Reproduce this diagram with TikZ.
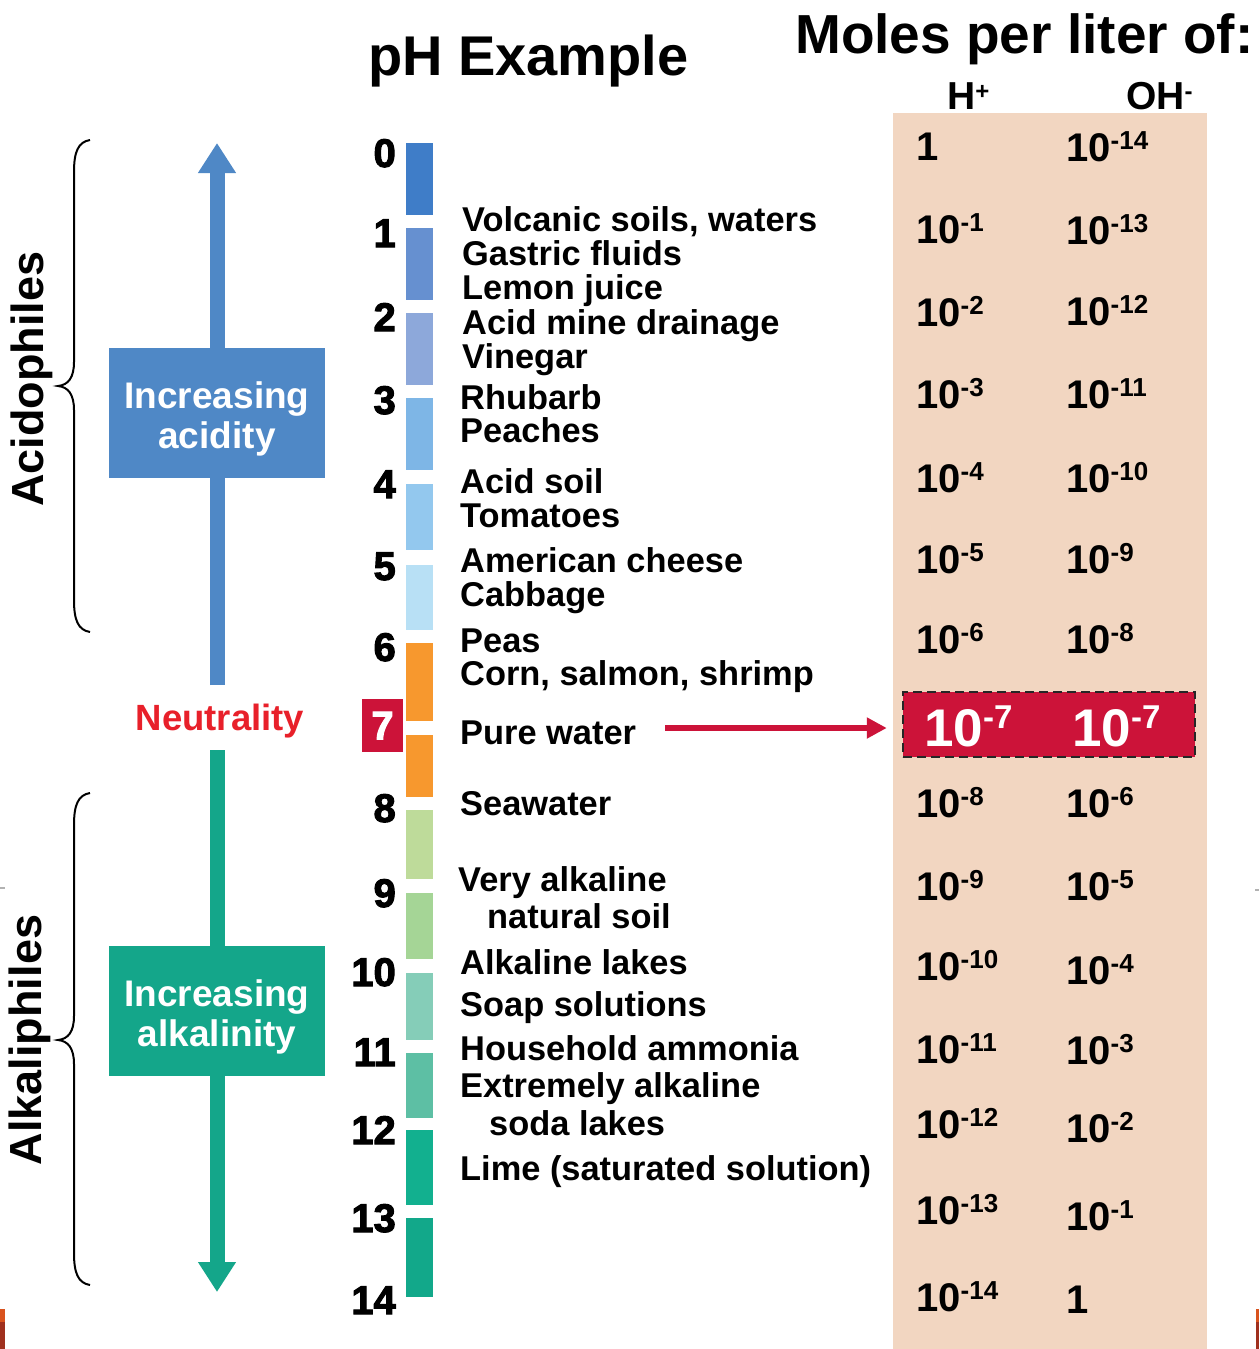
\documentclass[tikz,border=0pt]{standalone}
\usepackage{fontspec}
\setmainfont{Liberation Sans}
\newfontfamily\heavyfont[BoldFeatures={FakeBold=2.5}]{Liberation Sans}
\usetikzlibrary{arrows.meta}
\newcommand\fsz[1]{\fontsize{#1}{#1}\selectfont}
\newcommand\tenp[1]{10\raisebox{12pt}{\fsz{26}#1}}
\newcommand\tenbig[1]{10\raisebox{18pt}{\fsz{33}#1}}
\definecolor{peach}{HTML}{F2D6C1}
\definecolor{crim}{HTML}{CC1339}
\definecolor{neutred}{HTML}{E8202A}
\definecolor{acidblue}{HTML}{4F88C6}
\definecolor{alkgreen}{HTML}{14A68A}
\definecolor{c0}{HTML}{3F7DC8}
\definecolor{c1}{HTML}{6690D0}
\definecolor{c2}{HTML}{8DA8DA}
\definecolor{c3}{HTML}{7EB6E6}
\definecolor{c4}{HTML}{93C8EE}
\definecolor{c5}{HTML}{B8E0F5}
\definecolor{c6}{HTML}{F7982E}
\definecolor{c7}{HTML}{F7982E}
\definecolor{c8}{HTML}{BEDB9A}
\definecolor{c9}{HTML}{A5D596}
\definecolor{c10}{HTML}{85CDB8}
\definecolor{c11}{HTML}{5DBFA4}
\definecolor{c12}{HTML}{12B08F}
\definecolor{c13}{HTML}{12A88A}
\definecolor{slideor}{HTML}{D9531E}
\definecolor{slidered}{HTML}{A0301E}
\begin{document}
\begin{tikzpicture}[x=1pt,y=-1pt,
  extext/.style={anchor=base west,inner sep=0pt,font=\bfseries\fsz{34.4}},
  phnum/.style={anchor=base east,inner sep=0pt,font=\heavyfont\bfseries\fsz{40}},
  valtext/.style={anchor=base west,inner sep=0pt,font=\bfseries\fsz{40}},
  bigval/.style={anchor=base west,inner sep=0pt,font=\bfseries\fsz{53},text=white},
  title/.style={anchor=base west,inner sep=0pt,font=\bfseries\fsz{56}},
  hdr/.style={anchor=base west,inner sep=0pt,font=\bfseries\fsz{39}},
  sidebox/.style={minimum width=216pt,minimum height=130pt,inner sep=0pt},
  boxtext/.style={inner sep=0pt,text=white,align=center,font=\bfseries\fsz{37}},
  sidelabel/.style={inner sep=0pt,rotate=90,font=\bfseries\fsz{45}},
  bracepath/.style={line width=2pt},
  fatarrow/.style={line width=15pt}
]
\useasboundingbox (0,0) rectangle (1259,1349);
\fill[white] (0,0) rectangle (1259,1349);
% slide artefacts
\fill[slideor] (0,1309) rectangle (5,1322);
\fill[slidered] (0,1322) rectangle (5,1349);
\fill[slideor] (1256,1309) rectangle (1259,1322);
\fill[slidered] (1256,1322) rectangle (1259,1349);
\fill[gray!60] (0,887) rectangle (5,889);
\fill[gray!60] (1255,889) rectangle (1259,891);

% peach column
\fill[peach] (893,113) rectangle (1207,1349);

% titles
\node[title] (ttl) at (368,75) {pH Example};
\node[title,font=\bfseries\fsz{55}] (moles) at (795,53) {Moles per liter of:};
\node[hdr] (hh) at (947,109) {H\raisebox{10pt}{\fsz{24}+}};
\node[hdr] (oh) at (1126,109) {OH\raisebox{10pt}{\fsz{24}-}};

% color bars
\foreach \i/\ya/\yb in {0/143/215,1/228/300,2/313/385,3/398/470,4/484/550,5/565/630,6/643/721,7/735/797,8/810/879,9/893/959,10/973/1040,11/1053/1118,12/1130/1205,13/1218/1297}
  \fill[c\i] (406,\ya) rectangle (433,\yb);

% pH numbers
\foreach \n/\y in {0/167,1/247,2/331,3/414,4/498,5/580,6/661,8/822,9/907,10/986,11/1066,12/1144,13/1232,14/1314}
  \node[phnum] (n\n) at (396,\y) {\n};
\node[fill=crim,minimum width=41pt,minimum height=53pt,inner sep=0pt,text=white,font=\heavyfont\bfseries\fsz{40}] (n7) at (382.5,725.5) {7};

% examples
\node[extext] (e1) at (462,231) {Volcanic soils, waters};
\node[extext] (e2) at (462,265) {Gastric fluids};
\node[extext] (e3) at (462,299) {Lemon juice};
\node[extext] (e4) at (462,334) {Acid mine drainage};
\node[extext] (e5) at (462,368) {Vinegar};
\node[extext] (e6) at (460,409) {Rhubarb};
\node[extext] (e7) at (460,442) {Peaches};
\node[extext] (e8) at (460,493) {Acid soil};
\node[extext] (e9) at (460,527) {Tomatoes};
\node[extext] (e10) at (460,572) {American cheese};
\node[extext] (e11) at (460,606) {Cabbage};
\node[extext] (e12) at (460,652) {Peas};
\node[extext] (e13) at (460,685) {Corn, salmon, shrimp};
\node[extext] (pw) at (460,744) {Pure water};
\node[extext] (e15) at (460,815) {Seawater};
\node[extext] (e16) at (458,891) {Very alkaline};
\node[extext] (e17) at (487,928) {natural soil};
\node[extext] (e18) at (460,974) {Alkaline lakes};
\node[extext] (e19) at (460,1016) {Soap solutions};
\node[extext] (e20) at (460,1060) {Household ammonia};
\node[extext] (e21) at (460,1097) {Extremely alkaline};
\node[extext] (e22) at (489,1135) {soda lakes};
\node[extext] (e23) at (460,1180) {Lime (saturated solution)};

% neutral box in table
\node[fill=crim,draw=black!85,dash pattern=on 9pt off 5pt,line width=2.5pt,minimum width=292pt,minimum height=65pt,inner sep=0pt] (neut) at (1049,724.5) {};
\node[bigval] (nh) at (924,746) {\tenbig{-7}};
\node[bigval] (no) at (1072,746) {\tenbig{-7}};

% arrow from pure water
\coordinate (pwa) at (665,728);
\draw[crim,line width=5.5pt,-{Triangle[width=20pt,length=20pt]},shorten >=15pt] (pwa) -- (neut.west |- pwa);

% table values
\foreach \t/\y [count=\k] in {{1}/160,{\tenp{-1}}/243,{\tenp{-2}}/326,{\tenp{-3}}/408,{\tenp{-4}}/492,{\tenp{-5}}/573,{\tenp{-6}}/653,{\tenp{-8}}/817,{\tenp{-9}}/900,{\tenp{-10}}/980,{\tenp{-11}}/1063,{\tenp{-12}}/1138,{\tenp{-13}}/1224,{\tenp{-14}}/1311}
  \node[valtext] (h\k) at (916,\y) {\t};
\foreach \t/\y [count=\k] in {{\tenp{-14}}/161,{\tenp{-13}}/244,{\tenp{-12}}/325,{\tenp{-11}}/408,{\tenp{-10}}/492,{\tenp{-9}}/573,{\tenp{-8}}/653,{\tenp{-6}}/817,{\tenp{-5}}/900,{\tenp{-4}}/984,{\tenp{-3}}/1064,{\tenp{-2}}/1142,{\tenp{-1}}/1230,{1}/1313}
  \node[valtext] (o\k) at (1066,\y) {\t};

% left: acid arrow
\coordinate (ab) at (217,685);
\coordinate (at) at (217,143);
\draw[acidblue,fatarrow,-{Triangle[width=36pt,length=30pt]}] (ab) -- (at);
\node[sidebox,fill=acidblue] (acid) at (217,413) {};
\node[boxtext] (acidtxt) at (217,419) {Increasing\\[3pt]acidity};

\node[inner sep=0pt,text=neutred,font=\bfseries\fsz{36.5}] (neutl) at (220,721) {Neutrality};

\coordinate (gt) at (217,750);
\coordinate (gb) at (217,1292);
\draw[alkgreen,fatarrow,-{Triangle[width=36pt,length=30pt]}] (gt) -- (gb);
\node[sidebox,fill=alkgreen] (alk) at (217,1011) {};
\node[boxtext] (alktxt) at (217,1017) {Increasing\\[3pt]alkalinity};

% braces
\draw[bracepath] (90,140) .. controls (78,142) and (74,152) .. (74,172) -- (74,362) .. controls (74,378) and (68,385) .. (58,386) .. controls (68,387) and (74,394) .. (74,410) -- (74,600) .. controls (74,620) and (78,630) .. (90,632);
\draw[bracepath] (90,793) .. controls (78,795) and (74,805) .. (74,825) -- (74,1016) .. controls (74,1032) and (68,1039) .. (58,1040) .. controls (68,1041) and (74,1048) .. (74,1064) -- (74,1253) .. controls (74,1273) and (78,1283) .. (90,1285);
\node[sidelabel] (acl) at (32,379) {Acidophiles};
\node[sidelabel] (alkl) at (30,1040) {Alkaliphiles};
\end{tikzpicture}
\end{document}
